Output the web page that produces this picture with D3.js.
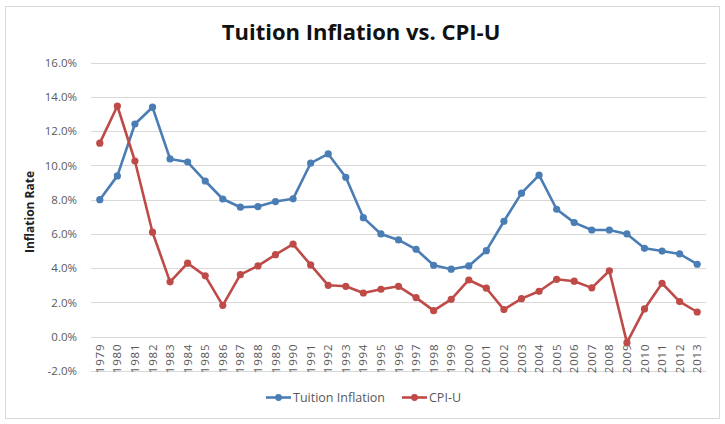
<!DOCTYPE html>
<html><head><meta charset="utf-8">
<script src="https://cdn.jsdelivr.net/npm/d3@7"></script>
<style>body{margin:0;background:#fff}svg{display:block}text{font-family:"Open Sans","Noto Sans",sans-serif}</style>
</head><body>
<svg id="c" width="725" height="424"></svg>
<script>
const years = ["1979","1980","1981","1982","1983","1984","1985","1986","1987","1988","1989","1990","1991","1992","1993","1994","1995","1996","1997","1998","1999","2000","2001","2002","2003","2004","2005","2006","2007","2008","2009","2010","2011","2012","2013"];
const tuition = [8.0,9.39,12.42,13.4,10.38,10.2,9.09,8.04,7.56,7.6,7.89,8.05,10.13,10.67,9.31,6.95,6.0,5.65,5.1,4.17,3.94,4.13,5.02,6.74,8.38,9.43,7.44,6.66,6.23,6.23,6.0,5.16,5.0,4.83,4.23];
const cpi = [11.3,13.47,10.26,6.1,3.2,4.29,3.55,1.83,3.62,4.13,4.79,5.4,4.19,3.0,2.94,2.55,2.77,2.94,2.28,1.52,2.18,3.31,2.83,1.58,2.22,2.65,3.35,3.24,2.85,3.85,-0.35,1.62,3.12,2.05,1.44];
const yTicks = [-2,0,2,4,6,8,10,12,14,16];
const seriesNames = ["Tuition Inflation","CPI-U"];
const colors = ["#4b7db5","#be4b48"];

const svg = d3.select("#c");
svg.append("rect").attr("x",5.5).attr("y",6.5).attr("width",714).attr("height",412)
  .attr("fill","#fff").attr("stroke","#d9d9d9");

const x = d3.scaleBand().domain(years).range([91,706]);
const y = d3.scaleLinear().domain([-2,16]).range([370.9,62.7]);

svg.append("text").attr("x",361).attr("y",40).attr("text-anchor","middle")
  .attr("font-size",22).attr("font-weight","bold").attr("fill","#111").text("Tuition Inflation vs. CPI-U");

// gridlines
svg.append("g").selectAll("line").data(yTicks).join("line")
  .attr("x1",91).attr("x2",706).attr("y1",d=>Math.round(y(d))+0.5).attr("y2",d=>Math.round(y(d))+0.5)
  .attr("stroke","#d9d9d9").attr("stroke-width",1);

// y axis
const ya = svg.append("g").attr("transform","translate(77,0)")
  .call(d3.axisLeft(y).tickValues(yTicks).tickSize(0).tickPadding(0).tickFormat(d=>d.toFixed(1)+"%"));
ya.select(".domain").remove();
ya.selectAll("text").attr("font-size",11.5).attr("fill","#595959").attr("font-family","'Open Sans',sans-serif");

svg.append("text").attr("transform","translate(34,212) rotate(-90)").attr("text-anchor","middle")
  .attr("font-size",12).attr("font-weight","bold").attr("fill","#222").text("Inflation Rate");

// x axis at 0
const xa = svg.append("g").attr("transform",`translate(0,${y(0)})`)
  .call(d3.axisBottom(x).tickSize(0).tickPadding(0));
xa.select(".domain").remove();
xa.selectAll("text").attr("font-size",11.5).attr("letter-spacing","0.8px").attr("fill","#595959").attr("font-family","'Open Sans',sans-serif")
  .attr("text-anchor","end").attr("transform","rotate(-90)").attr("dy","0.35em").attr("dx","-7").attr("y",0);

const cx = d => x(d)+x.bandwidth()/2;
[tuition,cpi].forEach((vals,i)=>{
  const line = d3.line().x((d,j)=>cx(years[j])).y(d=>y(d));
  svg.append("path").datum(vals).attr("d",line).attr("fill","none")
    .attr("stroke",colors[i]).attr("stroke-width",2.6).attr("stroke-linejoin","round");
  svg.append("g").selectAll("circle").data(vals).join("circle")
    .attr("cx",(d,j)=>cx(years[j])).attr("cy",d=>y(d)).attr("r",3.6).attr("fill",colors[i]);
});

// legend
const lg = [{x:266,tx:293},{x:402,tx:429}];
seriesNames.forEach((n,i)=>{
  const g = svg.append("g");
  g.append("line").attr("x1",lg[i].x).attr("x2",lg[i].x+25).attr("y1",397.5).attr("y2",397.5)
    .attr("stroke",colors[i]).attr("stroke-width",2.6);
  g.append("circle").attr("cx",lg[i].x+12.5).attr("cy",397.5).attr("r",3.4).attr("fill",colors[i]);
  g.append("text").attr("x",lg[i].tx).attr("y",397.5).attr("dy","0.35em").attr("font-size",12.5)
    .attr("fill","#595959").text(n);
});
</script>
</body></html>
